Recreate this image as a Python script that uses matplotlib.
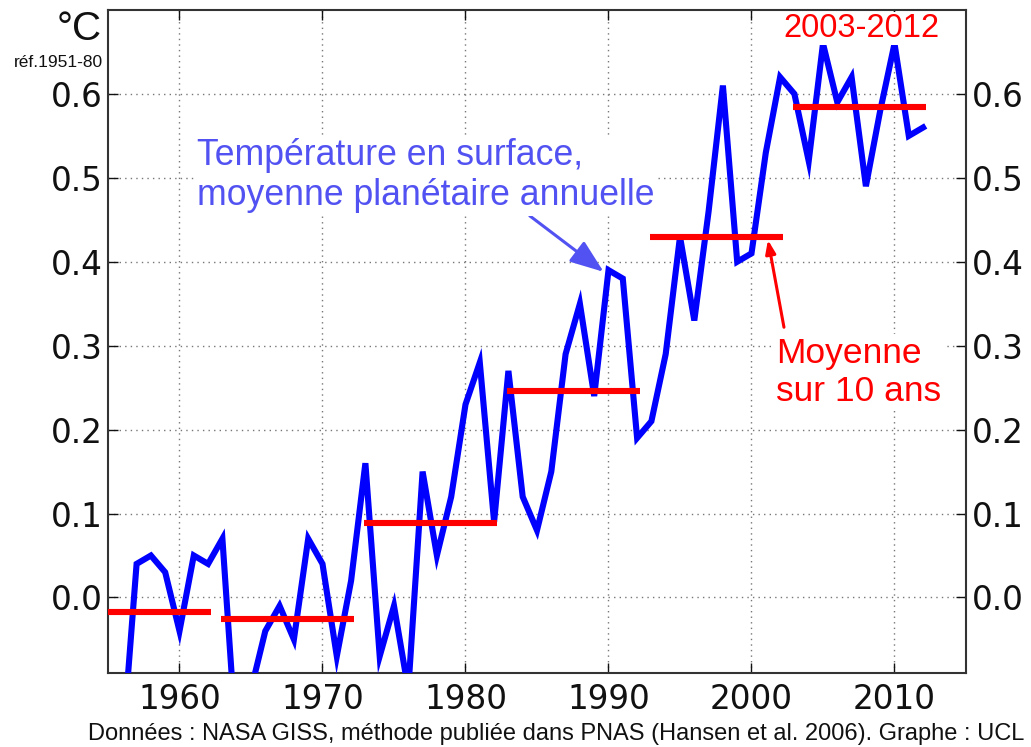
import matplotlib
matplotlib.use("Agg")
import matplotlib.pyplot as plt

# ---- data ----
years = list(range(1955, 2013))
anomaly = [-0.10, -0.18, 0.04, 0.05, 0.03, -0.04, 0.05, 0.04,
           0.07, -0.18, -0.11, -0.04, -0.01, -0.05, 0.07, 0.04, -0.07, 0.02,
           0.16, -0.07, -0.01, -0.11, 0.15, 0.05, 0.12, 0.23, 0.28, 0.09,
           0.27, 0.12, 0.08, 0.15, 0.29, 0.35, 0.24, 0.39, 0.38, 0.19,
           0.21, 0.29, 0.43, 0.33, 0.46, 0.61, 0.40, 0.41, 0.53, 0.62,
           0.60, 0.52, 0.66, 0.59, 0.62, 0.49, 0.58, 0.66, 0.55, 0.56]
decade_start = [1953, 1963, 1973, 1983, 1993, 2003]
decade_end = [1962, 1972, 1982, 1992, 2002, 2012]
decade_mean = [-0.017, -0.026, 0.089, 0.246, 0.429, 0.584]
xticks = [1960, 1970, 1980, 1990, 2000, 2010]
yticks = [0.0, 0.1, 0.2, 0.3, 0.4, 0.5, 0.6]

SANS = ["Liberation Sans", "DejaVu Sans"]
BLUE_TXT = "#5252f2"

fig = plt.figure(figsize=(10.31, 7.47), dpi=100)
ax = fig.add_axes([108/1031, 1-673/747, (966-108)/1031, (673-10)/747])

ax.plot(years, anomaly, color="#0000ff", lw=4.4, solid_joinstyle="miter", zorder=3)
for s, e, m in zip(decade_start, decade_end, decade_mean):
    ax.hlines(m, s - 0.13, e + 0.2, color="#ff0000", lw=4.4, zorder=4, capstyle="butt")

ax.set_xlim(1955, 2015)
ax.set_ylim(-0.09, 0.70)
ax.set_xticks(xticks)
ax.set_yticks(yticks)
ax.set_yticklabels([f"{v:.1f}" for v in yticks])
ax.grid(True, color="#777777", linestyle=(0, (1, 3)), lw=1.0, zorder=0)
ax.tick_params(direction="in", length=7, width=1, top=True, right=True,
               labelright=True, labelsize=23.5, colors="#111111")
ax.tick_params(axis="x", pad=7)
ax.tick_params(axis="y", pad=4)
for sp in ax.spines.values():
    sp.set_linewidth(1.5)
    sp.set_color("#333333")

# annotations
ax.annotate("Température en surface,\nmoyenne planétaire annuelle",
            xy=(1989.66, 0.388), xytext=(1961.2, 0.503),
            ha="left", va="center", fontsize=25.7, family=SANS, color=BLUE_TXT,
            linespacing=1.2,
            bbox=dict(facecolor="white", edgecolor="none", pad=2),
            arrowprops=dict(arrowstyle="-|>,head_length=0.8,head_width=0.3",
                            color=BLUE_TXT, lw=2.2, shrinkA=0, shrinkB=0,
                            relpos=(0.72, 0.0)),
            zorder=5)
ax.annotate("", xy=(2001.15, 0.426), xytext=(2002.27, 0.322),
            arrowprops=dict(arrowstyle="-|>,head_length=0.8,head_width=0.3",
                            color="#ff0000", lw=2.2, shrinkA=0, shrinkB=0),
            zorder=5)
ax.text(2001.7, 0.268, "Moyenne\nsur 10 ans", ha="left", va="center",
        fontsize=25.5, family=SANS, color="#ff0000", linespacing=1.2,
        bbox=dict(facecolor="white", edgecolor="none", pad=2), zorder=5)
ax.text(2007.66, 0.678, "2003-2012", ha="center", va="center",
        fontsize=23.5, family=SANS, color="#ff0000",
        bbox=dict(facecolor="white", edgecolor="none", pad=1), zorder=5)

fig.text(102/1031, 1-40/747, "°C", ha="right", va="baseline", fontsize=29,
         family=SANS, color="#111111")
fig.text(103/1031, 1-67/747, "réf.1951-80", ha="right", va="baseline", fontsize=12.5,
         family=SANS, color="#111111")
fig.text(556/1031, 1-740/747,
         "Données : NASA GISS, méthode publiée dans PNAS (Hansen et al. 2006). Graphe : UCL",
         ha="center", va="baseline", fontsize=17, family=SANS, color="#111111")

fig.savefig("out.png", dpi=100)
